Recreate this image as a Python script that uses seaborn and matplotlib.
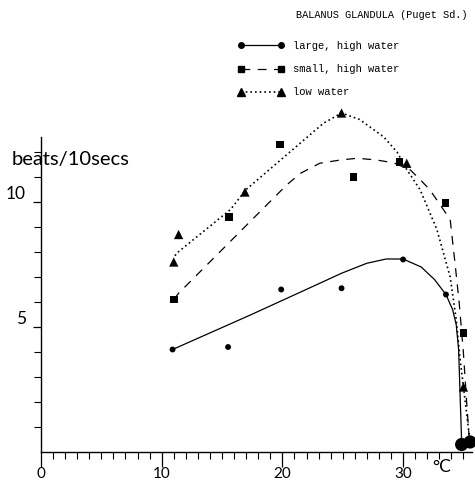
import matplotlib
matplotlib.use("Agg")
import matplotlib.pyplot as plt
from matplotlib.lines import Line2D
from matplotlib.ticker import MultipleLocator, FixedLocator
import seaborn as sns
import pandas as pd

# ---- data ----
title = "BALANUS GLANDULA (Puget Sd.)"
series_labels = ["large, high water", "small, high water", "low water"]

large_x = [10.9, 15.5, 19.9, 24.9, 30.0, 33.55]
large_y = [4.1, 4.2, 6.5, 6.55, 7.7, 6.3]
small_x = [11.0, 15.6, 19.8, 25.9, 29.7, 33.5, 35.0]
small_y = [6.1, 9.4, 12.3, 11.0, 11.6, 9.95, 4.77]
low_x = [11.0, 11.4, 16.9, 24.9, 30.3, 35.0]
low_y = [7.6, 8.7, 10.4, 13.56, 11.55, 2.6]
# lethal end points (big dots at zero beats)
end_x = [34.85, 35.55]
end_y = [0.3, 0.4]

# hand-drawn fitted curves
large_curve_x = [10.9, 17.3, 23.1, 24.9, 27.0, 28.6, 30.0, 31.5, 32.6, 33.55, 34.1, 34.4, 34.6, 34.7, 34.85]
large_curve_y = [4.1, 5.47, 6.75, 7.15, 7.55, 7.72, 7.72, 7.4, 6.9, 6.3, 5.7, 5.1, 4.1, 2.6, 0.4]
small_curve_x = [11.0, 11.4, 20.35, 21.5, 23.1, 24.8, 26.2, 27.8, 29.2, 30.6, 31.4, 32.2, 33.9, 34.3, 34.65, 34.98, 35.27, 35.5]
small_curve_y = [6.1, 6.35, 10.68, 11.15, 11.55, 11.68, 11.75, 11.68, 11.57, 11.28, 10.9, 10.5, 9.3, 7.56, 5.95, 4.08, 1.95, 0.4]
low_curve_x = [11.1, 11.24, 15.7, 17.0, 23.4, 24.9, 26.4, 28.4, 29.5, 30.3, 31.4, 32.8, 33.9, 34.4, 34.7, 35.0, 35.5]
low_curve_y = [7.85, 7.95, 9.7, 10.5, 13.15, 13.56, 13.3, 12.6, 12.0, 11.3, 10.5, 8.9, 7.0, 5.3, 3.8, 2.6, 0.6]

x_major = [0, 10, 20, 30]
y_major = [5, 10]

# ---- figure ----
sns.set_style("white")
plt.rcParams["font.family"] = ["Lato", "DejaVu Sans"]
plt.rcParams["text.color"] = "black"
plt.rcParams["xtick.color"] = "black"
plt.rcParams["ytick.color"] = "black"

W, H = 475, 482
fig = plt.figure(figsize=(W / 100, H / 100), dpi=100)
x0_px, ppx = 41, 12.07
y0_px, ppy = 452, 25.0
xmax, ymax = 35.8, 14.5
ax = fig.add_axes([x0_px / W, (H - y0_px) / H, xmax * ppx / W, ymax * ppy / H])
ax.set_xlim(0, xmax)
ax.set_ylim(0, ymax)

k = "black"
curves = [
    (large_curve_x, large_curve_y, "-", 0.9),
    (small_curve_x, small_curve_y, (0, (7, 6)), 0.9),
    (low_curve_x, low_curve_y, (0, (1, 1.8)), 1.2),
]
for cx, cy, ls, lw in curves:
    df = pd.DataFrame({"x": cx, "y": cy})
    sns.lineplot(data=df, x="x", y="y", sort=False, estimator=None, ax=ax,
                 color=k, linestyle=ls, linewidth=lw)

pts = [
    (large_x, large_y, "o", 18),
    (small_x, small_y, "s", 30),
    (low_x, low_y, "^", 45),
    (end_x, end_y, "o", 90),
]
for px, py, m, s in pts:
    df = pd.DataFrame({"x": px, "y": py})
    sns.scatterplot(data=df, x="x", y="y", marker=m, s=s, color=k,
                    edgecolor="none", ax=ax, clip_on=False, zorder=5)

# axes styling
for side in ["top", "right"]:
    ax.spines[side].set_visible(False)
ax.spines["left"].set_bounds(0, 12.6)
ax.spines["bottom"].set_bounds(0, 35.7)
for side in ["left", "bottom"]:
    ax.spines[side].set_linewidth(1.0)
    ax.spines[side].set_color(k)

ax.xaxis.set_major_locator(FixedLocator(x_major))
ax.xaxis.set_minor_locator(MultipleLocator(1))
ax.yaxis.set_major_locator(FixedLocator(y_major))
ax.yaxis.set_minor_locator(FixedLocator([v for v in range(1, 13) if v not in y_major]))
ax.tick_params(axis="x", which="both", bottom=True, top=False)
ax.tick_params(axis="y", which="both", left=True, right=False)
ax.tick_params(axis="x", which="major", direction="out", length=11, width=0.9,
               labelsize=11, pad=0, color=k, labelcolor=k)
ax.tick_params(axis="x", which="minor", direction="out", length=5, width=0.8, color=k)
ax.tick_params(axis="y", which="major", direction="out", length=6, width=0.9,
               labelsize=12.5, pad=5, color=k, labelcolor=k)
ax.tick_params(axis="y", which="minor", direction="out", length=5, width=0.8, color=k)
ax.set_xticklabels([str(v) for v in x_major])
ax.set_yticklabels([str(v) for v in y_major])
for lab in ax.get_yticklabels():
    lab.set_va("bottom")
ax.set_xlabel("")
ax.set_ylabel("")

fig.text(12 / W, 1 - 160 / H, "beats/10secs", fontsize=14.5,
         ha="left", va="center")
fig.text(442 / W, 1 - 467 / H, "°C", fontsize=12.5,
         ha="center", va="center")
fig.text(468 / W, 1 - 15 / H, title, fontsize=7.4, family="Liberation Mono",
         ha="right", va="center")

handles = [
    Line2D([], [], color=k, linestyle="-", linewidth=0.9, marker="o", markersize=4),
    Line2D([], [], color=k, linestyle=(0, (7, 6)), linewidth=0.9, marker="s", markersize=5),
    Line2D([], [], color=k, linestyle=(0, (1, 1.8)), linewidth=1.2, marker="^", markersize=6),
]
leg = fig.legend(handles, series_labels, loc="upper left",
                 bbox_to_anchor=(238 / W, 1 - 41 / H), frameon=False,
                 numpoints=2, handlelength=4.4, handletextpad=0.8,
                 labelspacing=1.25, borderpad=0, borderaxespad=0,
                 prop={"family": "Liberation Mono", "size": 7.6})

fig.savefig("out.png", dpi=100)
